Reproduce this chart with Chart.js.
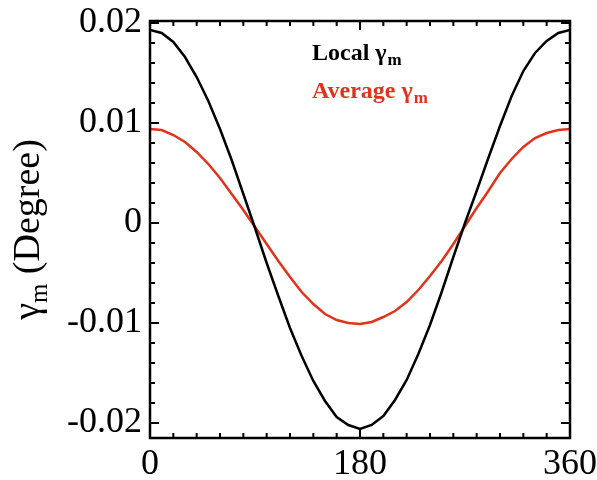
<!DOCTYPE html>
<html>
<head>
<meta charset="utf-8">
<script src="https://cdn.jsdelivr.net/npm/chart.js@4.4.1/dist/chart.umd.min.js"></script>
<style>
  body { margin: 0; background: #fff; }
  #wrap { width: 597px; height: 480px; }
</style>
</head>
<body>
<div id="wrap"><canvas id="gammaChart" width="597" height="480"></canvas></div>
<script>
// phase angle (deg)
const angles = [0, 10, 20, 30, 40, 50, 60, 70, 80, 90, 100, 110, 120, 130, 140, 150, 160, 170, 180,
                190, 200, 210, 220, 230, 240, 250, 260, 270, 280, 290, 300, 310, 320, 330, 340, 350, 360];

// local gamma_m
const localGamma = [0.0193, 0.0190, 0.0181, 0.0166, 0.0146, 0.0122, 0.0094, 0.0063, 0.0029, -0.0005,
                    -0.0040, -0.0073, -0.0105, -0.0133, -0.0158, -0.0178, -0.0194, -0.0202, -0.0206,
                    -0.0202, -0.0193, -0.0177, -0.0157, -0.0131, -0.0102, -0.0069, -0.0034, 0.0000,
                    0.0032, 0.0065, 0.0097, 0.0127, 0.0152, 0.0170, 0.0182, 0.0190, 0.0193];

// averaged gamma_m
const averageGamma = [0.0094, 0.0093, 0.0088, 0.0081, 0.0071, 0.0059, 0.0045, 0.0029, 0.0013, -0.0004,
                      -0.0021, -0.0038, -0.0054, -0.0069, -0.0081, -0.0091, -0.0097, -0.0100, -0.0101,
                      -0.0099, -0.0094, -0.0088, -0.0079, -0.0067, -0.0053, -0.0038, -0.0021, -0.0003,
                      0.0015, 0.0032, 0.0050, 0.0064, 0.0076, 0.0085, 0.0090, 0.0093, 0.0094];

const xTicks = [0, 180, 360];
const yTicks = [-0.02, -0.01, 0, 0.01, 0.02];
const yTickLabels = ['-0.02', '-0.01', '0', '0.01', '0.02'];

const black = '#000000';
const red = '#e2321b';
const serif = '"Liberation Serif", "DejaVu Serif", serif';

// box frame with inward ticks on all four sides, legend text and y title
const framePlugin = {
    id: 'frame',
    afterDraw(chart) {
        const { ctx, chartArea: a, scales } = chart;
        const x = scales.x, y = scales.y;
        ctx.save();
        ctx.strokeStyle = black;
        ctx.lineWidth = 2.5;
        ctx.strokeRect(a.left, a.top, a.right - a.left, a.bottom - a.top);

        ctx.lineWidth = 2;
        ctx.beginPath();
        for (let v = 0; v <= 360; v += 20) {
            const px = x.getPixelForValue(v);
            const len = xTicks.includes(v) ? 9 : 5;
            ctx.moveTo(px, a.bottom); ctx.lineTo(px, a.bottom - len);
            ctx.moveTo(px, a.top); ctx.lineTo(px, a.top + len);
        }
        for (let i = -10; i <= 10; i++) {
            const py = y.getPixelForValue(i * 0.002);
            const len = i % 5 === 0 ? 9 : 5;
            ctx.moveTo(a.left, py); ctx.lineTo(a.left + len, py);
            ctx.moveTo(a.right, py); ctx.lineTo(a.right - len, py);
        }
        ctx.stroke();

        // legend
        chart.data.datasets.forEach((ds, i) => {
            const bx = 312, by = 60 + i * 38;
            ctx.fillStyle = ds.borderColor;
            ctx.textBaseline = 'alphabetic';
            ctx.textAlign = 'left';
            ctx.font = 'bold 24px ' + serif;
            const head = ds.label + ' γ';
            ctx.fillText(head, bx, by);
            const w = ctx.measureText(head).width;
            ctx.font = 'bold 17px ' + serif;
            ctx.fillText('m', bx + w + 1, by + 5);
        });

        // y axis title
        ctx.fillStyle = black;
        ctx.translate(39, (a.top + a.bottom) / 2);
        ctx.rotate(-Math.PI / 2);
        const g = 'γ', rest = ' (Degree)';
        ctx.font = '38px ' + serif;
        const gw = ctx.measureText(g).width;
        const rw = ctx.measureText(rest).width;
        ctx.font = '25px ' + serif;
        const mw = ctx.measureText('m').width;
        let cx = -(gw + mw + rw) / 2;
        ctx.textAlign = 'left';
        ctx.font = '38px ' + serif;
        ctx.fillText(g, cx, 0);
        cx += gw;
        ctx.font = '25px ' + serif;
        ctx.fillText('m', cx, 8);
        cx += mw;
        ctx.font = '38px ' + serif;
        ctx.fillText(rest, cx, 0);
        ctx.restore();
    }
};

const ctx = document.getElementById('gammaChart').getContext('2d');
new Chart(ctx, {
    type: 'line',
    data: {
        labels: angles,
        datasets: [{
            label: 'Local',
            data: angles.map((a, i) => ({ x: a, y: localGamma[i] })),
            borderColor: black,
            borderWidth: 2.5,
            pointRadius: 0,
            tension: 0
        }, {
            label: 'Average',
            data: angles.map((a, i) => ({ x: a, y: averageGamma[i] })),
            borderColor: red,
            borderWidth: 2.5,
            pointRadius: 0,
            tension: 0
        }]
    },
    options: {
        responsive: false,
        animation: false,
        devicePixelRatio: 1,
        layout: { padding: { top: 21, right: 27, left: 0, bottom: 0 } },
        plugins: { legend: { display: false }, tooltip: { enabled: false } },
        scales: {
            x: {
                type: 'linear',
                min: 0,
                max: 360,
                afterBuildTicks: s => { s.ticks = xTicks.map(v => ({ value: v })); },
                afterFit: s => { s.height = 42; s.paddingLeft = 0; s.paddingRight = 0; },
                grid: { display: false, drawTicks: false },
                border: { display: false },
                ticks: {
                    color: black,
                    padding: 5,
                    maxRotation: 0,
                    font: { family: serif, size: 36 },
                    callback: v => String(v)
                }
            },
            y: {
                min: -0.0215,
                max: 0.0202,
                afterBuildTicks: s => { s.ticks = yTicks.map(v => ({ value: v })); },
                afterFit: s => { s.width = 150; s.paddingTop = 0; s.paddingBottom = 0; },
                grid: { display: false, drawTicks: false },
                border: { display: false },
                ticks: {
                    color: black,
                    padding: 8,
                    font: { family: serif, size: 36 },
                    callback: v => yTickLabels[yTicks.findIndex(t => Math.abs(t - v) < 1e-9)]
                }
            }
        }
    },
    plugins: [framePlugin]
});
</script>
</body>
</html>
